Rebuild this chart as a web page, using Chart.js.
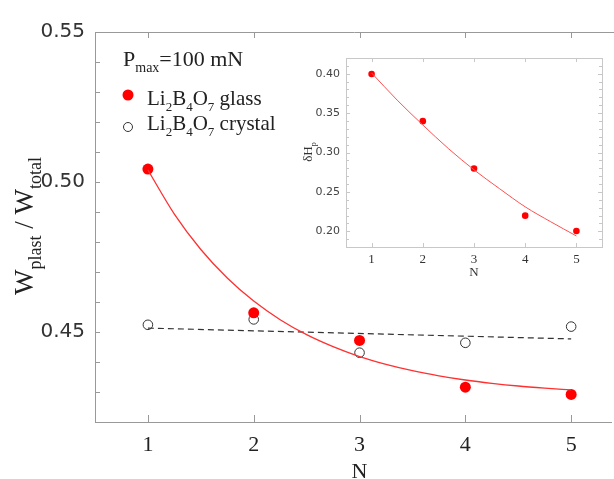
<!DOCTYPE html>
<html>
<head>
<meta charset="utf-8">
<script src="https://cdn.jsdelivr.net/npm/chart.js@4"></script>
<style>
  html, body { margin: 0; padding: 0; background: #fff; overflow: hidden; }
  #wrap { position: relative; width: 614px; height: 479px; }
  #main { position: absolute; left: 0; top: 0; }
  #inset { position: absolute; left: 296px; top: 50px; }
</style>
</head>
<body>
<div id="wrap">
  <canvas id="main" width="614" height="479"></canvas>
  <canvas id="inset" width="314" height="240"></canvas>
</div>
<script>
// ---------- data ----------
const cycles = [1, 2, 3, 4, 5];
const glassRatio = [0.5043, 0.4564, 0.4472, 0.4316, 0.4292];
const crystalRatio = [0.4524, 0.4542, 0.4431, 0.4464, 0.4518];
const glassFitN = [1, 1.25, 1.5, 1.75, 2, 2.25, 2.5, 2.75, 3, 3.25, 3.5, 3.75, 4, 4.25, 4.5, 4.75, 5];
const glassFitRatio = [0.5040, 0.4893, 0.4775, 0.4680, 0.4603, 0.4541, 0.4491, 0.4451, 0.4418, 0.4392, 0.4371, 0.4354, 0.4340, 0.4329, 0.4320, 0.4313, 0.4307];
const crystalFitN = [1, 5];
const crystalFitRatio = [0.4513, 0.4477];
const mainXTicks = [1, 2, 3, 4, 5];

const insetN = [1, 2, 3, 4, 5];
const deltaHp = [0.3996, 0.3398, 0.2796, 0.2198, 0.2003];
const deltaHpFitN = [1, 1.5, 2, 2.5, 3, 3.5, 4, 4.5, 5];
const deltaHpFit = [0.401, 0.3665, 0.335, 0.305, 0.278, 0.254, 0.231, 0.212, 0.194];
const insetXTicks = [1, 2, 3, 4, 5];

const pts = (xs, ys) => xs.map((x, i) => ({ x: x, y: ys[i] }));

const SERIF = '"Liberation Serif", "DejaVu Serif", serif';
const SANS = '"DejaVu Sans", sans-serif';

// draw runs of text with subscripts; returns width
function drawRuns(ctx, runs, x, y, size, color, align, subRatio, subDrop) {
  subRatio = subRatio || 0.62;
  subDrop = subDrop || 0.28;
  ctx.save();
  ctx.fillStyle = color;
  ctx.textBaseline = 'alphabetic';
  ctx.textAlign = 'left';
  const subSize = Math.round(size * subRatio);
  let total = 0;
  runs.forEach(r => {
    ctx.font = (r.sub ? subSize : size) + 'px ' + SERIF;
    total += ctx.measureText(r.t).width;
  });
  let cx = align === 'center' ? x - total / 2 : x;
  runs.forEach(r => {
    ctx.font = (r.sub ? subSize : size) + 'px ' + SERIF;
    ctx.fillText(r.t, cx, r.sub ? y + size * subDrop : y);
    cx += ctx.measureText(r.t).width;
  });
  ctx.restore();
  return total;
}

const majorLabel = v => {
  const r = Math.round(v * 100);
  return r % 5 === 0 ? (r / 100).toFixed(2) : '';
};

// ---------- main chart ----------
const mainDecor = {
  id: 'mainDecor',
  afterDraw(chart) {
    const ctx = chart.ctx, a = chart.chartArea;
    const xs = chart.scales.x, ys = chart.scales.y;
    ctx.save();
    ctx.strokeStyle = '#999';
    ctx.lineWidth = 1;
    ctx.beginPath();
    ctx.moveTo(a.left, a.top + 0.5); ctx.lineTo(614, a.top + 0.5);
    ctx.moveTo(a.right - 1, Math.round(a.bottom) + 0.5); ctx.lineTo(612, Math.round(a.bottom) + 0.5);
    ys.ticks.forEach(t => {
      const py = Math.round(ys.getPixelForValue(t.value)) + 0.5;
      ctx.moveTo(a.left, py); ctx.lineTo(a.left + 5, py);
    });
    mainXTicks.forEach(v => {
      const px = Math.round(xs.getPixelForValue(v)) + 0.5;
      ctx.moveTo(px, a.bottom); ctx.lineTo(px, a.bottom - 7);
      ctx.moveTo(px, a.top); ctx.lineTo(px, a.top + 6);
    });
    ctx.stroke();

    // axis titles
    drawRuns(ctx, [{ t: 'N' }], xs.getPixelForValue(3), 478, 22, '#222', 'center');
    ctx.save();
    ctx.translate(33, 226);
    ctx.rotate(-Math.PI / 2);
    drawRuns(ctx, [{ t: 'W' }, { t: 'plast', sub: true }, { t: ' / W' }, { t: 'total', sub: true }], 0, 0, 27, '#222', 'center', 0.68, 0.3);
    ctx.restore();

    // legend
    drawRuns(ctx, [{ t: 'P' }, { t: 'max', sub: true }, { t: '=100 mN' }], 123, 66, 22, '#222', 'left');
    ctx.beginPath();
    ctx.fillStyle = '#ff0000';
    ctx.arc(128, 95, 5.5, 0, Math.PI * 2);
    ctx.fill();
    drawRuns(ctx, [{ t: 'Li' }, { t: '2', sub: true }, { t: 'B' }, { t: '4', sub: true }, { t: 'O' }, { t: '7', sub: true }, { t: ' glass' }], 147, 105, 21, '#222', 'left');
    ctx.beginPath();
    ctx.strokeStyle = '#333';
    ctx.lineWidth = 1;
    ctx.arc(128, 127, 4.5, 0, Math.PI * 2);
    ctx.stroke();
    drawRuns(ctx, [{ t: 'Li' }, { t: '2', sub: true }, { t: 'B' }, { t: '4', sub: true }, { t: 'O' }, { t: '7', sub: true }, { t: ' crystal' }], 147, 130, 21, '#222', 'left');
    ctx.restore();
  }
};

new Chart(document.getElementById('main'), {
  type: 'scatter',
  data: {
    datasets: [
      { label: 'fit glass', data: pts(glassFitN, glassFitRatio), showLine: true, borderColor: '#ff3030', borderWidth: 1.3, pointRadius: 0, cubicInterpolationMode: 'monotone', fill: false },
      { label: 'fit crystal', data: pts(crystalFitN, crystalFitRatio), showLine: true, borderColor: '#333', borderWidth: 1.2, borderDash: [6, 4], pointRadius: 0, fill: false },
      { label: 'Li2B4O7 glass', data: pts(cycles, glassRatio), pointRadius: 5.5, pointBackgroundColor: '#ff0000', pointBorderColor: '#ff0000', pointBorderWidth: 0 },
      { label: 'Li2B4O7 crystal', data: pts(cycles, crystalRatio), pointRadius: 4.8, pointBackgroundColor: '#fff', pointBorderColor: '#333', pointBorderWidth: 1 }
    ]
  },
  options: {
    responsive: false,
    animation: false,
    devicePixelRatio: 1,
    layout: { padding: { top: 32, right: 1, left: 0, bottom: 0 } },
    plugins: { legend: { display: false }, tooltip: { enabled: false } },
    scales: {
      x: {
        type: 'linear', min: 0.5, max: 5.35,
        afterBuildTicks: s => { s.ticks = mainXTicks.map(v => ({ value: v })); },
        afterFit: s => { s.height = 57; s.paddingRight = 0; s.paddingLeft = 0; },
        grid: { display: false, drawTicks: false },
        border: { display: true, color: '#999', width: 1 },
        ticks: { padding: 10, color: '#222', font: { family: SERIF, size: 22 }, autoSkip: false, maxRotation: 0 }
      },
      y: {
        type: 'linear', min: 0.42, max: 0.55,
        ticks: { stepSize: 0.01, autoSkip: false, padding: 10, color: '#333', font: { family: SANS, size: 20 }, callback: v => majorLabel(v) },
        afterFit: s => { s.width = 95; s.paddingTop = 0; s.paddingBottom = 0; },
        grid: { display: false, drawTicks: false },
        border: { display: true, color: '#999', width: 1 }
      }
    }
  },
  plugins: [mainDecor]
});

// ---------- inset chart ----------
const insetDecor = {
  id: 'insetDecor',
  afterDraw(chart) {
    const ctx = chart.ctx, a = chart.chartArea;
    const xs = chart.scales.x, ys = chart.scales.y;
    ctx.save();
    ctx.strokeStyle = '#c8c8c8';
    ctx.lineWidth = 1;
    ctx.strokeRect(Math.round(a.left) + 0.5, Math.round(a.top) + 0.5, Math.round(a.right - a.left), Math.round(a.bottom - a.top));
    ctx.beginPath();
    ys.ticks.forEach(t => {
      const py = Math.round(ys.getPixelForValue(t.value)) + 0.5;
      const major = Math.round(t.value * 100) % 5 === 0;
      const len = major ? 4 : 3;
      ctx.moveTo(a.left, py); ctx.lineTo(a.left + len, py);
      ctx.moveTo(a.right, py); ctx.lineTo(a.right - len, py);
    });
    insetXTicks.forEach(v => {
      const px = Math.round(xs.getPixelForValue(v)) + 0.5;
      ctx.moveTo(px, a.bottom); ctx.lineTo(px, a.bottom - 4);
      ctx.moveTo(px, a.top); ctx.lineTo(px, a.top + 4);
    });
    ctx.stroke();
    drawRuns(ctx, [{ t: 'N' }], xs.getPixelForValue(3), 226, 13, '#333', 'center');
    ctx.save();
    ctx.translate(16, 102);
    ctx.rotate(-Math.PI / 2);
    drawRuns(ctx, [{ t: 'δH' }, { t: 'p', sub: true }], 0, 0, 13, '#333', 'center');
    ctx.restore();
    ctx.restore();
  }
};

new Chart(document.getElementById('inset'), {
  type: 'scatter',
  data: {
    datasets: [
      { label: 'fit', data: pts(deltaHpFitN, deltaHpFit), showLine: true, borderColor: '#ff5050', borderWidth: 1, pointRadius: 0, cubicInterpolationMode: 'monotone', fill: false },
      { label: 'dHp', data: pts(insetN, deltaHp), pointRadius: 3.3, pointBackgroundColor: '#ff0000', pointBorderColor: '#ff0000', pointBorderWidth: 0 }
    ]
  },
  options: {
    responsive: false,
    animation: false,
    devicePixelRatio: 1,
    layout: { padding: { top: 8, right: 8, left: 0, bottom: 0 } },
    plugins: { legend: { display: false }, tooltip: { enabled: false } },
    scales: {
      x: {
        type: 'linear', min: 0.5, max: 5.5,
        afterBuildTicks: s => { s.ticks = insetXTicks.map(v => ({ value: v })); },
        afterFit: s => { s.height = 43; s.paddingRight = 0; s.paddingLeft = 0; },
        grid: { display: false, drawTicks: false },
        border: { display: false },
        ticks: { padding: 5, color: '#333', font: { family: SERIF, size: 13 }, autoSkip: false, maxRotation: 0 }
      },
      y: {
        type: 'linear', min: 0.18, max: 0.42,
        ticks: { stepSize: 0.01, autoSkip: false, padding: 6, color: '#444', font: { family: SANS, size: 11 }, callback: v => majorLabel(v) },
        afterFit: s => { s.width = 50; s.paddingTop = 0; s.paddingBottom = 0; },
        grid: { display: false, drawTicks: false },
        border: { display: false }
      }
    }
  },
  plugins: [insetDecor]
});
</script>
</body>
</html>
